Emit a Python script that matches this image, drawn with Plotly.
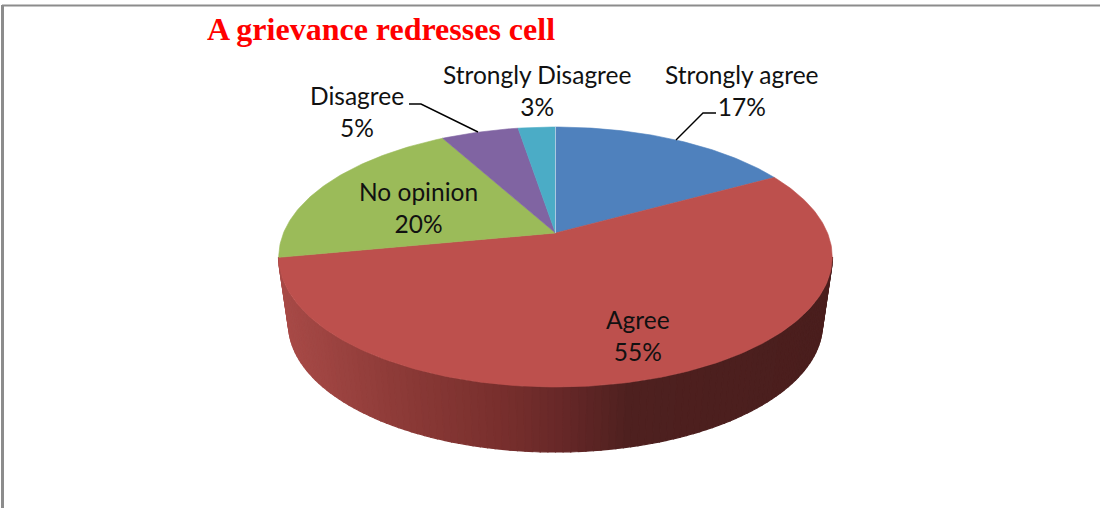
import math
import plotly.graph_objects as go

# ---- data ----
categories = ["Strongly agree", "Agree", "No opinion", "Disagree", "Strongly Disagree"]
values = [17.0, 55.0, 20.0, 5.4, 2.6]
slice_colors = ["#4f81bd", "#bd504d", "#9bbb59", "#8064a2", "#4bacc6"]
chart_title = "A grievance redresses cell"

# ---- pie projection (pixel scale of the hidden axes) ----
CX, R, C, A, B = 555.5, 272.0, 0.1846, -82.55, 233.0
BOTTOM_CX, BOTTOM_CY, BOTTOM_RX, BOTTOM_RY = 555.5, 324.0, 267.0, 128.0


def top_point(angle):
    """Angle in radians, clockwise from 12 o'clock, onto the tilted disc."""
    u, v = math.sin(angle), math.cos(angle)
    d = C * v + 1
    return CX + R * u / d, (A * v + B) / d


def rim_color(x):
    stops = [(280, (168, 74, 71)), (400, (140, 58, 55)), (500, (120, 47, 45)),
             (560, (104, 40, 40)), (630, (78, 32, 31)), (830, (74, 30, 29))]
    for (x0, c0), (x1, c1) in zip(stops, stops[1:]):
        if x <= x1:
            f = max(0.0, (x - x0) / (x1 - x0))
            return "rgb(%d,%d,%d)" % tuple(round(a + (b - a) * f) for a, b in zip(c0, c1))
    return "rgb(74,30,29)"


fig = go.Figure()

# rim of the disc, drawn as narrow vertical bands from left to right
N = 110
for i in range(N):
    p0 = math.pi * i / N
    p1 = math.pi * (i + 1) / N
    x0t = CX - 277 * math.cos(p0)
    x1t = CX - 277 * math.cos(p1)
    y0t = 257 + 130 * math.sin(p0)
    y1t = 257 + 130 * math.sin(p1)
    x0b = BOTTOM_CX - BOTTOM_RX * math.cos(p0)
    x1b = BOTTOM_CX - BOTTOM_RX * math.cos(p1)
    y0b = BOTTOM_CY + BOTTOM_RY * math.sin(p0)
    y1b = BOTTOM_CY + BOTTOM_RY * math.sin(p1)
    col = rim_color((x0t + x1t) / 2)
    fig.add_trace(go.Scatter(
        x=[x0t, x1t, x1b, x0b, x0t], y=[y0t, y1t, y1b, y0b, y0t],
        mode="lines", fill="toself", fillcolor=col,
        line=dict(color=col, width=1.2), hoverinfo="skip", showlegend=False))

# top face, one polygon per slice, angles follow the values
total = sum(values)
start = 0.0
for name, val, col in zip(categories, values, slice_colors):
    a0 = start / total * 2 * math.pi
    a1 = (start + val) / total * 2 * math.pi
    steps = max(8, int(val * 4))
    pts = [top_point(a0 + (a1 - a0) * k / steps) for k in range(steps + 1)]
    xs = [CX] + [p[0] for p in pts] + [CX]
    ys = [B] + [p[1] for p in pts] + [B]
    fig.add_trace(go.Scatter(
        x=xs, y=ys, mode="lines", fill="toself", fillcolor=col,
        line=dict(color=col, width=0.6), name=name, showlegend=False,
        hoverinfo="name"))
    start += val

# pale seam at twelve o'clock
sx, sy = top_point(0.0)
fig.add_trace(go.Scatter(x=[CX, sx], y=[B, sy], mode="lines",
                         line=dict(color="#a9c9e0", width=1),
                         hoverinfo="skip", showlegend=False))

# leader lines
fig.add_trace(go.Scatter(x=[676, 703, 716], y=[140, 113, 113], mode="lines",
                         line=dict(color="black", width=1.4),
                         hoverinfo="skip", showlegend=False))
fig.add_trace(go.Scatter(x=[409, 421, 478], y=[104, 104, 132], mode="lines",
                         line=dict(color="black", width=1.4),
                         hoverinfo="skip", showlegend=False))

label_pos = {"Strongly agree": (742, 90.5), "Agree": (638, 335.5), "No opinion": (418, 207.5),
             "Disagree": (357, 111.5), "Strongly Disagree": (537, 90.5)}
for name, val in zip(categories, values):
    x, y = label_pos[name]
    fig.add_annotation(x=x, y=y, text=f"{name}<br>{round(val)}%", showarrow=False,
                       xanchor="center", yanchor="middle",
                       font=dict(family="Lato", size=24.5, color="#111111"))

fig.add_annotation(x=205, y=29, text=f"<b>{chart_title}</b>", showarrow=False, xanchor="left",
                   yanchor="middle",
                   font=dict(family="Liberation Serif", size=32, color="#ff0000"),
                   )

fig.update_layout(
    width=1100, height=508, margin=dict(l=0, r=0, t=0, b=0),
    paper_bgcolor="white", plot_bgcolor="white", showlegend=False,
    xaxis=dict(range=[0, 1100], visible=False, fixedrange=True),
    yaxis=dict(range=[508, 0], visible=False, fixedrange=True),
    shapes=[
        dict(type="line", x0=2, x1=1100, y0=5.5, y1=5.5, line=dict(color="#8c8c8c", width=2)),
        dict(type="line", x0=2.5, x1=2.5, y0=5, y1=508, line=dict(color="#8c8c8c", width=3)),
    ],
)
fig.write_html("out.html", post_script="document.body.style.margin='0';document.body.style.overflow='hidden';",
               config={"displayModeBar": False})
